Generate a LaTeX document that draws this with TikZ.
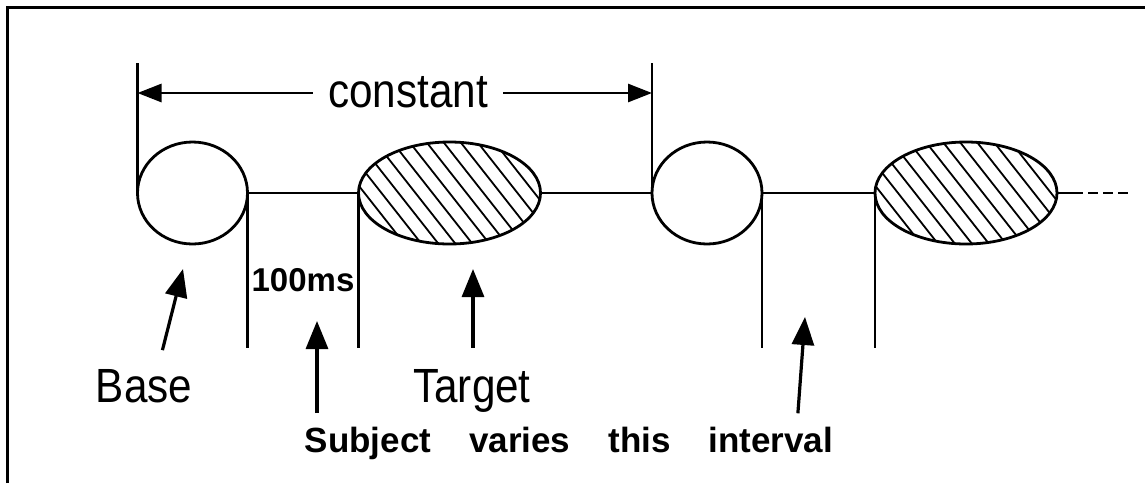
\documentclass[tikz,border=0pt]{standalone}
\usepackage{fontspec}
\setmainfont{Liberation Sans}
\newfontfamily\narrowsans[FakeStretch=0.88]{Liberation Sans}
\usetikzlibrary{positioning,arrows.meta,shapes.geometric,calc}

\begin{document}
\begin{tikzpicture}[
      x=0.5pt, y=-0.5pt,
      line width=1.4pt,
      blob/.style={draw, ellipse, inner sep=0pt, outer sep=0pt, minimum height=51pt},
      plainblob/.style={blob, minimum width=55pt},
      hatchblob/.style={blob, minimum width=91pt, path picture={
          \foreach \k in {-9,...,9}
            \draw[line width=0.9pt]
              ($(path picture bounding box.center)+(\k*8.5pt-31pt,39.4pt)$) -- ++(62pt,-78.8pt);
        }},
      bigtxt/.style={font=\narrowsans\fontsize{24pt}{28pt}\selectfont, inner sep=0pt},
      boldtxt/.style={font=\bfseries\fontsize{17.5pt}{20pt}\selectfont, inner sep=0pt},
      ptr/.style={-{Triangle[length=14pt,width=11pt]}, line width=1.6pt},
      dim/.style={-{Triangle[length=12pt,width=9pt]}, line width=1.4pt},
    ]
    \useasboundingbox (0,0) rectangle (1145,483);
    % frame
    \draw[line width=1.5pt] (7,483) -- (7,7) -- (1145,7);
    % stimulus train
    \node[plainblob] (base1)   at (192.5,193) {};
    \node[hatchblob] (target1) at (449.5,193) {};
    \node[plainblob] (base2)   at (707,193)   {};
    \node[hatchblob] (target2) at (966,193)   {};
    \draw (base1) -- (target1);
    \draw (target1) -- (base2);
    \draw (base2) -- (target2);
    \coordinate (tail)    at (1073,193);
    \coordinate (tailend) at (1130,193);
    \draw (target2) -- (tail);
    \draw[dash pattern=on 5pt off 2.5pt] (tail) -- (tailend);
    % constant period
    \coordinate (dimtop) at (0,63);
    \coordinate (dimy)   at (0,93);
    \draw (base1.west) -- (base1.west |- dimtop);
    \draw (base2.west) -- (base2.west |- dimtop);
    \node[bigtxt, inner xsep=7pt, anchor=base] (const) at (408,107) {constant};
    \draw[dim] (const.west |- dimy) -- (base1.west |- dimy);
    \draw[dim] (const.east |- dimy) -- (base2.west |- dimy);
    % interval ticks
    \coordinate (floor) at (0,348);
    \foreach \a in {base1.east,target1.west,base2.east,target2.west}{
      \draw (\a) -- (\a |- floor);
    }
    \node[boldtxt, font=\bfseries\fontsize{16.5pt}{19pt}\selectfont] (ms) at (303,280) {100ms};
    % labels
    \node[bigtxt, anchor=base] (basetxt) at (144,402) {Base};
    \node[bigtxt, anchor=base] (tgttxt)  at (472,402) {Target};
    \node[boldtxt, anchor=base] (sublbl) at (569,452)
      {\spaceskip=19pt Subject varies this interval};
    \coordinate (basetip) at (183,269);
    \coordinate (tgttip)  at (473,269);
    \coordinate (subtip)  at (317,321);
    \coordinate (inttip)  at (805,317);
    \draw[ptr, shorten <=9pt] ([xshift=7pt]basetxt.north) -- (basetip);
    \draw[ptr, shorten <=10pt] (tgttxt.north -| tgttip) -- (tgttip);
    \draw[ptr, shorten <=6pt] (sublbl.north -| subtip) -- (subtip);
    \draw[ptr, shorten <=6pt] ([xshift=114pt]sublbl.north) -- (inttip);
  \end{tikzpicture}
\end{document}
